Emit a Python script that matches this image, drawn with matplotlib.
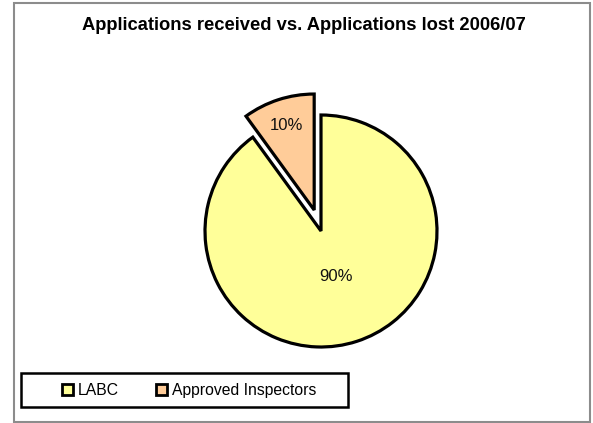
import matplotlib
matplotlib.use('Agg')
import numpy as np
import matplotlib.pyplot as plt
from matplotlib.patches import Patch, Rectangle

plt.rcParams['font.family'] = ['Liberation Sans', 'DejaVu Sans']

labels = ['LABC', 'Approved Inspectors']
shares = [90, 10]
colors = ['#FFFF99', '#FFCC99']
explode = [0, 0.19]
title = 'Applications received vs. Applications lost 2006/07'

W, H = 593, 423
fig = plt.figure(figsize=(W / 100, H / 100), dpi=100)

# outer chart border
fig.patches.append(Rectangle((14 / W, 1 - 422 / H), 576 / W, 419 / H,
                             transform=fig.transFigure, fill=False,
                             edgecolor='#8c8c8c', linewidth=1.5))

# pie area: centre at (321, 231) px, radius 116 px
cx, cy, r = 321, 231, 116
half = 160
ax = fig.add_axes([(cx - half) / W, (H - cy - half) / H, 2 * half / W, 2 * half / H])
wedges, texts, autotexts = ax.pie(
    shares, colors=colors, explode=explode, startangle=90, counterclock=False,
    autopct='%1.0f%%', pctdistance=0.41,
    wedgeprops=dict(edgecolor='black', linewidth=2.3),
    textprops=dict(fontsize=12, color='#111111'))
ax.set_xlim(-half / r, half / r)
ax.set_ylim(-half / r, half / r)
ax.set_aspect('equal')
ax.axis('off')

# place the small slice label further out
dist = [0.41, 0.77]
for w, t, d, e in zip(wedges, autotexts, dist, explode):
    ang = np.deg2rad((w.theta1 + w.theta2) / 2)
    t.set_position(((d + e) * np.cos(ang), (d + e) * np.sin(ang)))

fig.text(303.5 / W, 1 - 25 / H, title, ha='center', va='center',
         fontsize=13.2, fontweight='bold')

# legend box
fig.patches.append(Rectangle((21 / W, 1 - 407 / H), 327 / W, 34 / H,
                             transform=fig.transFigure, fill=False,
                             edgecolor='black', linewidth=1.8))
handles = [Patch(facecolor=c, edgecolor='black', linewidth=2) for c in colors]
fig.legend(handles, labels, ncol=2, loc='center left',
           bbox_to_anchor=(62 / W, 1 - 390 / H), frameon=False,
           fontsize=11.3, handlelength=0.7, handleheight=0.7,
           handletextpad=0.3, columnspacing=2.4, borderpad=0, borderaxespad=0)

fig.savefig('out.png', dpi=100)
